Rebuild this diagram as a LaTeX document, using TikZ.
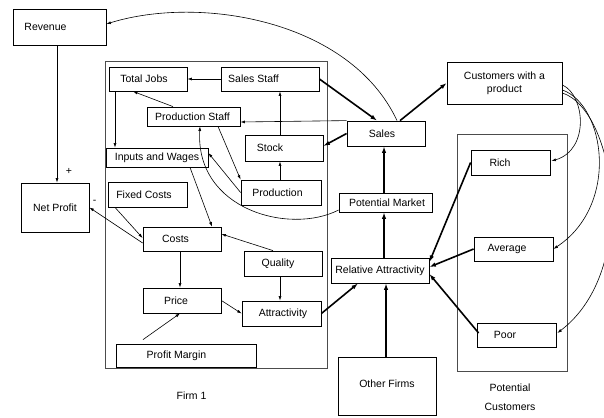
\documentclass[tikz,border=0pt]{standalone}
\usepackage{fontspec}
\setmainfont{Liberation Sans}
\usetikzlibrary{arrows.meta}

\begin{document}
\begin{tikzpicture}
	[x=1pt, y=-1pt, >={Latex[length=4.5pt,width=3pt]},
	 blk/.style={draw, line width=0.8pt, inner sep=0pt, font=\fontsize{10.5}{12.6}\selectfont},
	 frm/.style={draw=black!70, line width=1pt, inner sep=0pt},
	 sz/.style 2 args={minimum width=#1pt, minimum height=#2pt},
	 tx/.style={execute at begin node={\hspace*{#1pt}}, execute at end node={\hspace*{-#1pt}}},
	 lbl/.style={font=\fontsize{10.5}{12.6}\selectfont},
	 lnk/.style={line width=0.6pt, ->},
	 fat/.style={line width=1.6pt, -{Latex[length=6.5pt,width=4.5pt]}}]
   \useasboundingbox (0,0) rectangle (604,417);
   % frames
   \node[frm, sz={222}{306}] (firm) at (216,215) {};
   \node[frm, sz={110}{237}] (pc) at (512,252.5) {};
   \node[lbl] (firmlbl) at (191.5,396) {Firm 1};
   \node[lbl, align=center, font=\fontsize{10.5}{19}\selectfont] (pclbl) at (510,397.5) {Potential\\Customers};
   % boxes
   \node[blk, sz={93}{36}, tx=-14] (rev) at (59.5,27) {Revenue};
   \node[blk, sz={68}{49}] (np) at (55,207.5) {Net Profit};
   \node[blk, sz={78}{24}, tx=-4] (tj) at (148,79) {Total Jobs};
   \node[blk, sz={98}{24}, tx=-16.5] (ss) at (270,79) {Sales Staff};
   \node[blk, sz={93}{19}, tx=-1] (ps) at (193.5,116.5) {Production Staff};
   \node[blk, sz={78}{26}, tx=-14] (stock) at (284,148) {Stock};
   \node[blk, sz={102}{19}] (iw) at (157,157.5) {Inputs and Wages};
   \node[blk, sz={80}{25}, tx=-3.5] (prod) at (281,192.5) {Production};
   \node[blk, sz={79}{25}, tx=-3.5] (fc) at (147.5,194.5) {Fixed Costs};
   \node[blk, sz={78}{24}, tx=-6.5] (costs) at (182,239) {Costs};
   \node[blk, sz={78}{25}, tx=-5] (qual) at (283,263.5) {Quality};
   \node[blk, sz={78}{25}, tx=-6] (price) at (182,300.5) {Price};
   \node[blk, sz={79}{25}, tx=1.5] (attr) at (281.5,313.5) {Attractivity};
   \node[blk, sz={140}{23}, tx=-9.5] (pm) at (186,355.5) {Profit Margin};
   \node[blk, sz={78}{25}, tx=-4] (sales) at (386,133.5) {Sales};
   \node[blk, sz={115}{42}, align=center] (cust) at (504.5,83) {Customers with a\\product};
   \node[blk, sz={93}{19}, tx=1.5] (potm) at (385.5,202.5) {Potential Market};
   \node[blk, sz={98}{25}] (ra) at (380,270.5) {Relative Attractivity};
   \node[blk, sz={98}{58}] (of) at (387,386) {\raisebox{4pt}{Other Firms}};
   \node[blk, sz={79}{25}, tx=-10.5] (rich) at (510.5,162.5) {Rich};
   \node[blk, sz={79}{24}, tx=-6.5] (avg) at (513.5,249) {Average};
   \node[blk, sz={79}{24}, tx=-11.5] (poor) at (516.5,335) {Poor};
   % thin links
    \path[lnk]
    ([xshift=-2.5pt]rev.south) edge node[lbl, pos=0.92, xshift=12pt] {+} ([xshift=2pt]np.north)
    ([yshift=-4pt]costs.west) edge node[lbl, pos=0.9, yshift=9pt] {-} (np.east)
    (ss.west) edge (tj.east)
    ([xshift=-20.5pt]ps.north) edge ([xshift=-15pt]tj.south)
    ([xshift=-33pt]tj.south) edge ([xshift=-42pt]iw.north)
    (sales.north west) edge ([yshift=-5.5pt]ps.east)
    ([xshift=-4pt]stock.north) edge ([xshift=10pt]ss.south)
    ([xshift=-1pt]prod.north) edge ([xshift=-4pt]stock.south)
    ([xshift=24.5pt]ps.south) edge (prod.north west)
    (prod.west) edge ([yshift=4.5pt]iw.east)
    ([xshift=33pt]iw.south) edge ([xshift=30pt]costs.north)
    ([xshift=-32.5pt]fc.south) edge ([yshift=1pt]costs.west)
    ([xshift=-10pt]qual.north) edge ([yshift=5pt]costs.east)
    ([xshift=-2pt]costs.south) edge ([xshift=-2pt]price.north)
    ([xshift=-3pt]qual.south) edge ([xshift=-1.5pt]attr.north)
    (price.east) edge (attr.west)
    ([xshift=-43pt,yshift=4pt]pm.north) edge ([xshift=-2pt]price.south);
   % curved links
   \draw[lnk] ([xshift=11pt]sales.north) .. controls (350,20) and (200,-5) .. ([yshift=3pt]rev.east);
   \draw[lnk] ([yshift=-7.5pt]potm.west) .. controls (290,235) and (195,210) .. ([xshift=6.5pt]ps.south);
   \draw[lnk] ([yshift=-2pt]cust.east) .. controls (585,95) and (590,150) .. ([xshift=1pt,yshift=1.5pt]rich.east);
   \draw[lnk] ([yshift=-7pt]cust.east) .. controls (605,105) and (620,205) .. (avg.east);
   \draw[lnk] ([yshift=-10pt]cust.east) .. controls (615,110) and (640,270) .. ([xshift=1pt,yshift=2pt]poor.east);
   % thick links
    \path[fat]
    (ss.east) edge ([xshift=-9pt]sales.north)
    (sales.west) edge ([yshift=2pt]stock.east)
    (attr.east) edge ([xshift=-22pt]ra.south)
    ([xshift=-1pt]of.north) edge ([xshift=6pt]ra.south)
    ([xshift=4pt]ra.north) edge ([xshift=-1.5pt]potm.south)
    ([xshift=-1.5pt]potm.north) edge ([xshift=-2pt]sales.south)
    ([xshift=14pt]sales.north) edge (cust.west)
    (rich.west) edge ([yshift=8.5pt]ra.east)
    (avg.west) edge ([yshift=3.5pt]ra.east)
    ([xshift=2pt,yshift=2pt]poor.west) edge ([yshift=-3.5pt]ra.east);
\end{tikzpicture}
\end{document}
